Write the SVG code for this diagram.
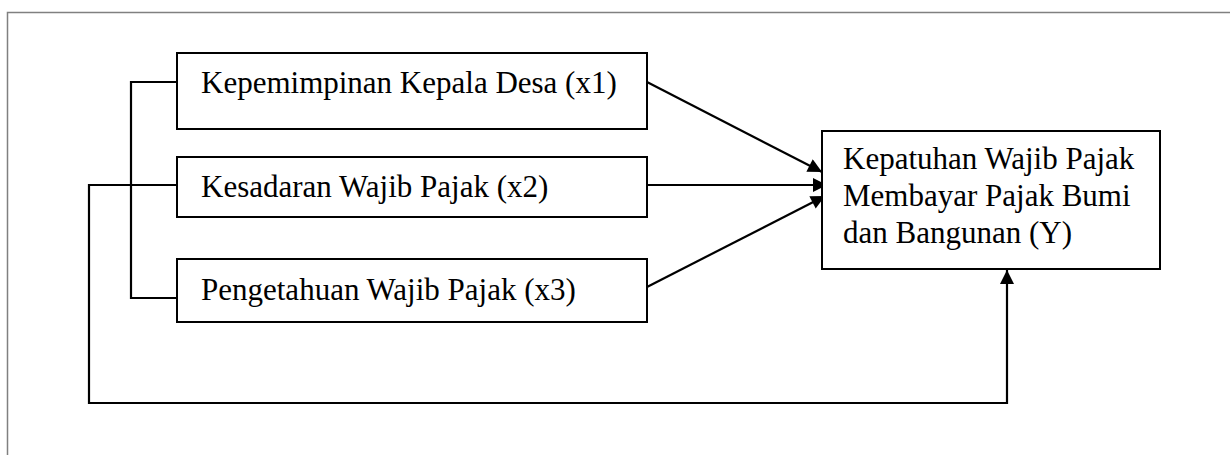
<svg xmlns="http://www.w3.org/2000/svg" width="1230" height="455" viewBox="0 0 1230 455">
<style>
.box{fill:#fff;stroke:#000;stroke-width:2}
.t{font-family:"Liberation Serif","Times New Roman",serif;font-size:31px;fill:#000}
.c{fill:none;stroke:#000;stroke-width:2.2}
</style>
<defs>
<marker id="ah" viewBox="0 0 10 10" refX="10" refY="5" markerWidth="16" markerHeight="14" markerUnits="userSpaceOnUse" orient="auto">
<path d="M0,0 L10,5 L0,10 Z" fill="#000"/>
</marker>
</defs>
<rect x="0" y="0" width="1230" height="455" fill="#fff"/>
<rect x="7.5" y="12.5" width="1240" height="460" fill="none" stroke="#808080" stroke-width="1.5"/>
<g id="connectors">
<path class="c" d="M177,82 H131 V298 H177"/>
<path class="c" d="M177,185 H89 V403 H1007 V270" marker-end="url(#ah)"/>
<path class="c" d="M647,82 L822,172" marker-end="url(#ah)"/>
<path class="c" d="M647,185 L827,185" marker-end="url(#ah)"/>
<path class="c" d="M647,287 L825,196" marker-end="url(#ah)"/>
</g>
<g id="x1">
<rect class="box" x="177" y="53" width="470" height="76"/>
<text class="t" x="201" y="93">Kepemimpinan Kepala Desa (x1)</text>
</g>
<g id="x2">
<rect class="box" x="177" y="157" width="470" height="60"/>
<text class="t" x="201" y="197">Kesadaran Wajib Pajak (x2)</text>
</g>
<g id="x3">
<rect class="box" x="177" y="259" width="470" height="63"/>
<text class="t" x="201" y="300">Pengetahuan Wajib Pajak (x3)</text>
</g>
<g id="y">
<rect class="box" x="822" y="131" width="338" height="138"/>
<text class="t" x="843" y="169">Kepatuhan Wajib Pajak</text>
<text class="t" x="843" y="206">Membayar Pajak Bumi</text>
<text class="t" x="843" y="243">dan Bangunan (Y)</text>
</g>
</svg>
